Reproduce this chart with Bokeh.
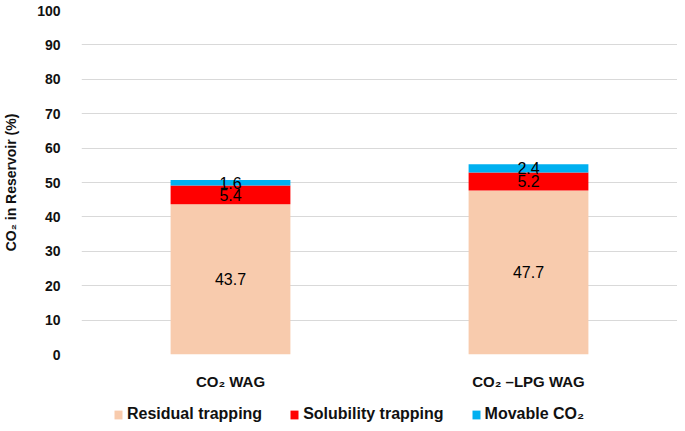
from bokeh.plotting import figure
from bokeh.layouts import column
from bokeh.models import ColumnDataSource, FactorRange, Legend, LegendItem, Range1d, FixedTicker
from bokeh.core.properties import value
from bokeh.embed import file_html
from bokeh.resources import INLINE

categories = ["CO₂ WAG", "CO₂ –LPG WAG"]
residual = [43.7, 47.7]
solubility = [5.4, 5.2]
movable = [1.6, 2.4]
series_names = ["Residual trapping", "Solubility trapping", "Movable CO₂"]
colors = ["#F8CBAD", "#FF0000", "#00B0F0"]
y_ticks = [0, 10, 20, 30, 40, 50, 60, 70, 80, 90, 100]

src = ColumnDataSource(dict(cat=categories, residual=residual, solubility=solubility, movable=movable))
stack_cols = ["residual", "solubility", "movable"]

TXT = "#111111"

p = figure(width=677, height=392, x_range=FactorRange(factors=categories),
           y_range=Range1d(0, 100), output_backend="svg", toolbar_location=None,
           min_border_left=75, min_border_right=0, min_border_top=10, min_border_bottom=35)
p.outline_line_color = None

p.vbar_stack(stack_cols, x="cat", width=0.402, color=colors, line_color=None, source=src)

# value labels at segment midpoints
lab_x, lab_y, lab_t = [], [], []
for i, c in enumerate(categories):
    base = 0
    for arr in (residual, solubility, movable):
        lab_x.append(c)
        lab_y.append(base + arr[i] / 2)
        lab_t.append(f"{arr[i]:.1f}")
        base += arr[i]
p.text(x=lab_x, y=lab_y, text=lab_t, text_align="center", text_baseline="middle",
       text_font=value("Liberation Sans"), text_font_size="16px", text_color="#000000")

p.xgrid.grid_line_color = None
p.ygrid.grid_line_color = "#D9D9D9"
p.ygrid.grid_line_width = 1

p.yaxis.ticker = FixedTicker(ticks=y_ticks)
p.yaxis.axis_line_color = None
p.yaxis.major_tick_line_color = None
p.yaxis.minor_tick_line_color = None
p.yaxis.major_label_text_font = "Liberation Sans"
p.yaxis.major_label_text_font_style = "bold"
p.yaxis.major_label_text_font_size = "14px"
p.yaxis.major_label_text_color = TXT
p.yaxis.major_label_standoff = 15
p.yaxis.axis_label = "CO₂ in Reservoir (%)"
p.yaxis.axis_label_text_font = "Liberation Sans"
p.yaxis.axis_label_text_font_style = "bold"
p.yaxis.axis_label_text_font_size = "14px"
p.yaxis.axis_label_text_color = TXT
p.yaxis.axis_label_standoff = 15

p.xaxis.axis_line_color = None
p.xaxis.major_tick_line_color = None
p.xaxis.minor_tick_line_color = None
p.xaxis.major_label_text_font = "Liberation Sans"
p.xaxis.major_label_text_font_style = "bold"
p.xaxis.major_label_text_font_size = "15px"
p.xaxis.major_label_text_color = TXT
p.xaxis.major_label_standoff = 12

# legend strip: same stacked series, drawn in a range where the bars fall outside view
p2 = figure(width=677, height=31, x_range=FactorRange(factors=categories), y_range=Range1d(1000, 1001),
            output_backend="svg", toolbar_location=None,
            x_axis_location=None, y_axis_location=None,
            min_border_left=0, min_border_right=0, min_border_top=0, min_border_bottom=0)
p2.outline_line_color = None
p2.grid.grid_line_color = None
leg_renderers = p2.vbar_stack(stack_cols, x="cat", width=0.4, color=colors, line_color=None, source=src)
items = [LegendItem(label=n, renderers=[r]) for n, r in zip(series_names, leg_renderers)]
legend = Legend(items=items, orientation="horizontal", location=(32, 0),
                label_text_font="Liberation Sans", label_text_font_style="bold",
                label_text_font_size="16px", label_text_color=TXT,
                glyph_width=10, glyph_height=11, spacing=27, label_standoff=4,
                border_line_color=None, background_fill_alpha=0, padding=0, margin=0)
p2.add_layout(legend)

open("out.html", "w").write(file_html(column(p, p2), INLINE))
